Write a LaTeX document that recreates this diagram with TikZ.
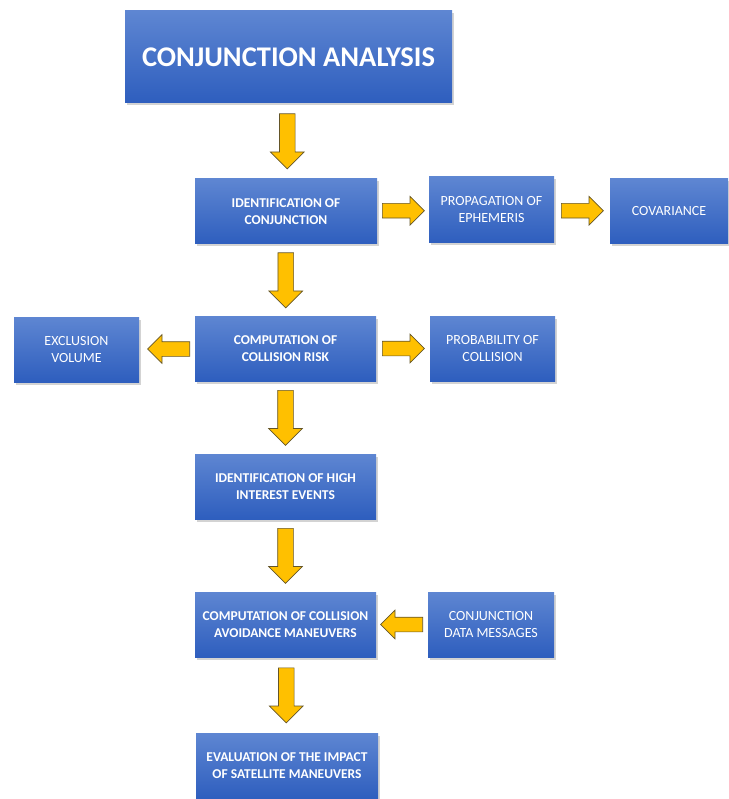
\documentclass[tikz,border=0pt]{standalone}
\usepackage{fontspec}
\setmainfont{Carlito}
\usetikzlibrary{shapes.arrows,shadows,calc}
\definecolor{boxtop}{RGB}{94,134,210}
\definecolor{boxbot}{RGB}{46,94,190}
\definecolor{arrowfill}{RGB}{255,192,0}
\definecolor{arrowline}{RGB}{100,85,40}
\tikzset{
  box/.style={rectangle, top color=boxtop, bottom color=boxbot, draw=none,
    text=white, align=center, inner sep=0pt, font=\fontsize{14}{17}\selectfont,
    drop shadow={shadow xshift=2pt, shadow yshift=-2.5pt, opacity=0.35}},
  boldbox/.style={box, font=\fontsize{13.5}{17}\selectfont\bfseries},
  yarrow/.style={single arrow, fill=arrowfill, draw=arrowline, line width=0.7pt,
    inner xsep=0pt, single arrow tip angle=90, anchor=tail},
  varrow/.style={yarrow, inner ysep=7.5pt, minimum width=33pt, single arrow head extend=9pt,
    minimum height=55pt, rotate=-90},
  harrow/.style={yarrow, inner ysep=7pt, minimum width=28pt, single arrow head extend=7pt,
    minimum height=42pt},
  rarrow/.style={harrow},
  larrow/.style={harrow, rotate=180},
}
\begin{document}
\begin{tikzpicture}[x=1pt,y=-1pt]
\useasboundingbox (0,0) rectangle (728,799);
\node[box, minimum width=327pt, minimum height=92pt, font=\fontsize{28.5}{30}\selectfont\bfseries] (title) at (288.5,57) {CONJUNCTION ANALYSIS};
\node[boldbox, minimum width=182pt, minimum height=65pt] (ident) at (286,211.5) {IDENTIFICATION OF\\CONJUNCTION};
\node[box, minimum width=125pt, minimum height=66pt] (prop) at (491.5,210) {PROPAGATION OF\\EPHEMERIS};
\node[box, minimum width=118pt, minimum height=65pt] (cov) at (669,211.5) {COVARIANCE};
\node[boldbox, minimum width=181pt, minimum height=65pt] (ccr) at (285.5,348.5) {COMPUTATION OF\\COLLISION RISK};
\node[box, minimum width=125pt, minimum height=65pt] (excl) at (76.5,349.5) {EXCLUSION\\VOLUME};
\node[box, minimum width=125pt, minimum height=65pt] (prob) at (492.5,348.5) {PROBABILITY OF\\COLLISION};
\node[boldbox, minimum width=181pt, minimum height=65pt] (hie) at (285.5,486.5) {IDENTIFICATION OF HIGH\\INTEREST EVENTS};
\node[boldbox, minimum width=181pt, minimum height=65pt] (cca) at (285.5,624.5) {COMPUTATION OF COLLISION\\AVOIDANCE MANEUVERS};
\node[box, minimum width=126pt, minimum height=65pt] (cdm) at (491,624.5) {CONJUNCTION\\DATA MESSAGES};
\node[boldbox, minimum width=182pt, minimum height=66pt] (eval) at (287,766) {EVALUATION OF THE IMPACT\\OF SATELLITE MANEUVERS};
% arrows (tail placed so the arrow is centred in the gap)
\node[varrow] (a1) at ($(title.south)!0.5!(ident.north)+(0,-27.5)$) {};
\node[rarrow] (a2) at ($(ident.east)!0.5!(prop.west)+(-21,0)$) {};
\node[rarrow] (a3) at ($(prop.east)!0.5!(cov.west)+(-21,0)$) {};
\node[varrow] (a4) at ($(ident.south)!0.5!(ccr.north)+(0,-27.5)$) {};
\node[larrow] (a5) at ($(ccr.west)!0.5!(excl.east)+(23,0)$) {};
\node[rarrow] (a6) at ($(ccr.east)!0.5!(prob.west)+(-21,0)$) {};
\node[varrow] (a7) at ($(ccr.south)!0.5!(hie.north)+(0,-27.5)$) {};
\node[varrow] (a8) at ($(hie.south)!0.5!(cca.north)+(0,-27.5)$) {};
\node[larrow] (a9) at ($(cdm.west)!0.5!(cca.east)+(21,0)$) {};
\node[varrow] (a10) at ($(cca.south)!0.5!(eval.north)+(0,-27.5)$) {};
\end{tikzpicture}
\end{document}
